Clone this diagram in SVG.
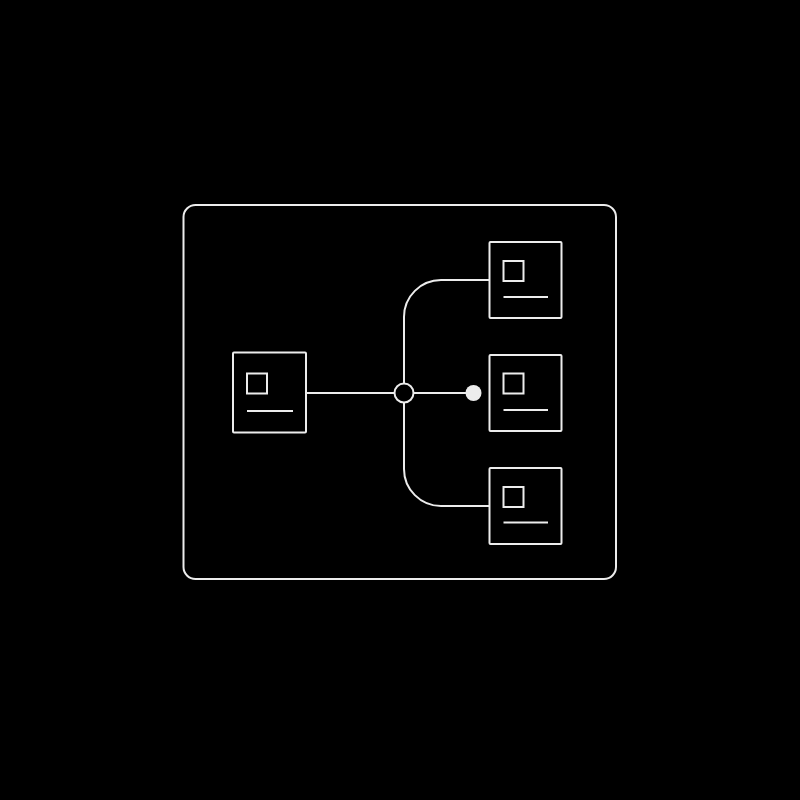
<svg xmlns="http://www.w3.org/2000/svg" width="800" height="800" viewBox="0 0 800 800">
<style>
.s{fill:none;stroke:#ececec;stroke-width:2}
.n{fill:#000;stroke:#ececec;stroke-width:2}
</style>
<rect width="800" height="800" fill="#000"/>
<rect id="frame" class="s" x="183.5" y="205" width="432.5" height="374" rx="12"/>
<g id="connectors" class="s">
<line x1="306" y1="393" x2="394.5" y2="393"/>
<line x1="413.5" y1="393" x2="466" y2="393"/>
<path d="M404 383.5 V317 A37 37 0 0 1 441 280 H489"/>
<path d="M404 402.5 V469 A37 37 0 0 0 441 506 H489"/>
</g>
<g id="junction"><circle class="n" cx="404" cy="393" r="9.5"/></g>
<g id="dot"><circle cx="473.5" cy="393" r="8" fill="#ececec"/></g>
<g id="node-left">
<rect class="n" x="233" y="352.5" width="73" height="80" rx="1"/>
<rect class="s" x="247" y="373.5" width="20" height="20"/>
<line class="s" x1="247" y1="411" x2="293" y2="411"/>
</g>
<g id="node-top">
<rect class="n" x="489.5" y="242" width="72" height="76" rx="1"/>
<rect class="s" x="503.5" y="261" width="20" height="20"/>
<line class="s" x1="503.5" y1="297" x2="548" y2="297"/>
</g>
<g id="node-mid">
<rect class="n" x="489.5" y="355" width="72" height="76" rx="1"/>
<rect class="s" x="503.5" y="373.5" width="20" height="20"/>
<line class="s" x1="503.5" y1="410" x2="548" y2="410"/>
</g>
<g id="node-bottom">
<rect class="n" x="489.5" y="468" width="72" height="76" rx="1"/>
<rect class="s" x="503.5" y="487" width="20" height="20"/>
<line class="s" x1="503.5" y1="522.5" x2="548" y2="522.5"/>
</g>
</svg>
